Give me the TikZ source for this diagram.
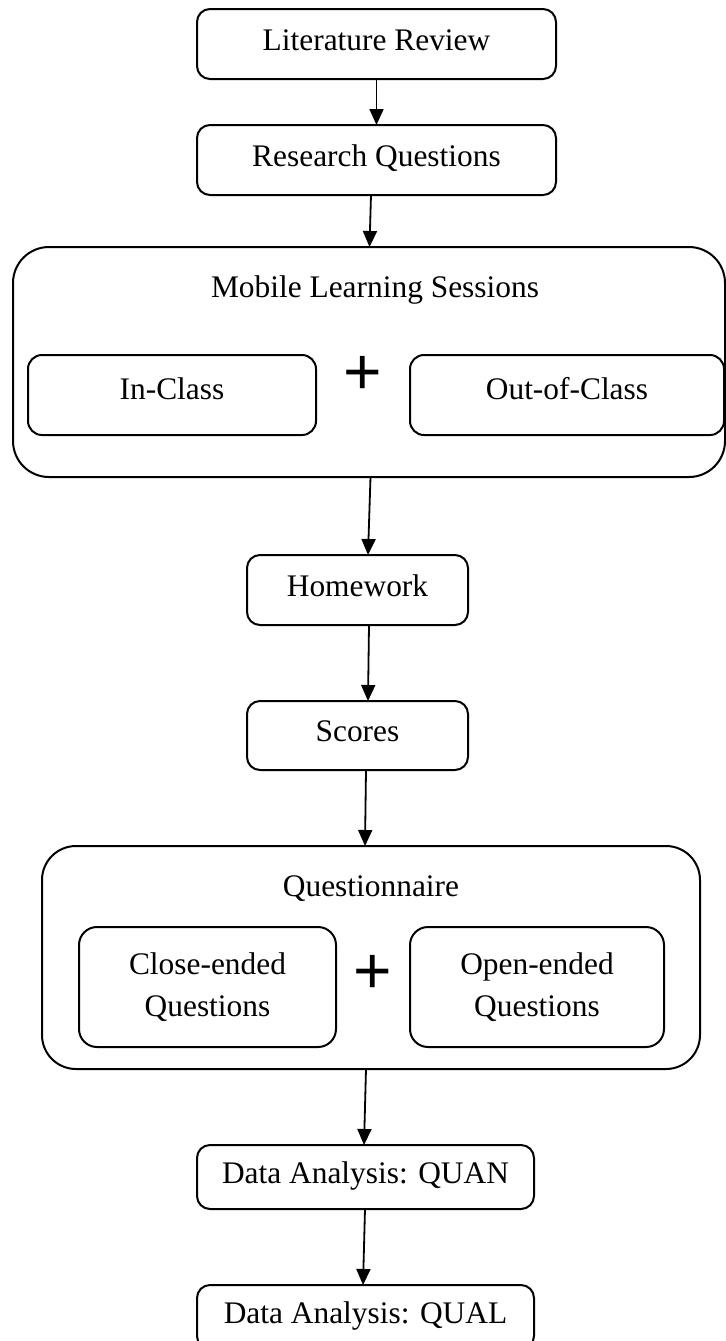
\documentclass[tikz,border=0pt]{standalone}
\usepackage{fontspec}
\setmainfont{Liberation Serif}
\newfontfamily\plusfont{Liberation Sans}
\usetikzlibrary{arrows.meta}
\begin{document}
\begin{tikzpicture}[
  x=0.5pt, y=-0.5pt,
  font=\fontsize{15.7}{21}\selectfont,
  box/.style={draw, line width=1pt, rounded corners=6.5pt, inner sep=0pt,
              outer sep=0pt, align=center, text height=0.7em, text depth=0.1em},
  innerbox/.style={box, rounded corners=7pt, text depth=0.25em},
  pairbox/.style={draw, line width=1pt, rounded corners=9pt, inner sep=0pt,
                  outer sep=0pt, align=center},
  groupbox/.style={draw, line width=1pt, rounded corners=18pt, inner sep=0pt, outer sep=0pt},
  title/.style={anchor=base, inner sep=0pt},
  plus/.style={inner sep=0pt, font=\plusfont\fontsize{33}{33}\selectfont},
  arr/.style={line width=0.9pt, -{Triangle[length=8pt, width=7pt]}}
]
\useasboundingbox (0,0) rectangle (726,1341);

% top chain
\node[box, minimum width=179.5pt, minimum height=35pt] (lit) at (376.5,44) {Literature Review};
\node[box, minimum width=179.5pt, minimum height=35pt] (rq) at (376.5,160) {Research Questions};

% mobile learning group
\node[groupbox, minimum width=356pt, minimum height=115pt] (mob) at (369,362) {};
\node[title] (mobt) at (375,297) {Mobile Learning Sessions};
\node[innerbox, minimum width=144pt, minimum height=40pt] (incl) at (172,395) {In-Class};
\node[innerbox, minimum width=157pt, minimum height=40pt] (outcl) at (567,395) {Out-of-Class};
\node[plus] (plus1) at (363,375) {+};

% homework and scores
\node[box, minimum width=110.5pt, minimum height=35pt] (hw) at (357.5,590) {Homework};
\node[box, minimum width=110.5pt, minimum height=34.5pt] (sc) at (357.5,735.5) {Scores};

% questionnaire group
\node[groupbox, rounded corners=17pt, minimum width=329pt, minimum height=111.5pt] (qn) at (371,957.5) {};
\node[title] (qnt) at (371,896) {Questionnaire};
\node[pairbox, minimum width=128.5pt, minimum height=60pt] (close) at (207.5,987) {Close-ended\\Questions};
\node[pairbox, minimum width=127pt, minimum height=60pt] (open) at (537,987) {Open-ended\\Questions};
\node[plus] (plus2) at (373,974) {+};

% analysis
\node[box, minimum width=168.5pt, minimum height=32pt] (quan) at (365.5,1177) {Data Analysis: QUAN};
\node[box, minimum width=168.5pt, minimum height=32pt] (qual) at (365.5,1317) {Data Analysis: QUAL};

% connectors
\draw[arr] (lit.south) -- (rq.north);
\draw[arr] ([xshift=-2.75pt]rq.south) -- ([xshift=0.25pt]mob.north);
\draw[arr] ([xshift=0.75pt]mob.south) -- ([xshift=5.25pt]hw.north);
\draw[arr] ([xshift=5.75pt]hw.south) -- ([xshift=5.25pt]sc.north);
\draw[arr] ([xshift=4.25pt]sc.south) -- ([xshift=-3pt]qn.north);
\draw[arr] ([xshift=-2.5pt]qn.south) -- ([xshift=-0.75pt]quan.north);
\draw[arr] ([xshift=-0.25pt]quan.south) -- ([xshift=-1.25pt]qual.north);
\end{tikzpicture}
\end{document}
